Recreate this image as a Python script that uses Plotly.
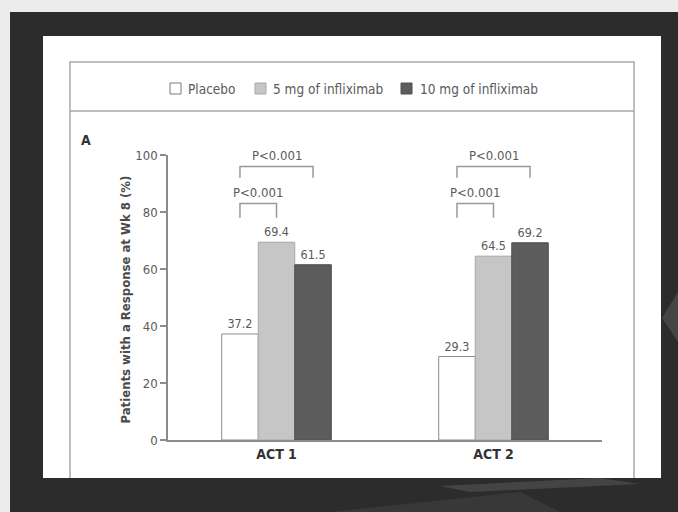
import plotly.graph_objects as go

# ---- data -------------------------------------------------------------
trials = ["ACT 1", "ACT 2"]
groups = ["Placebo", "5 mg of infliximab", "10 mg of infliximab"]
placebo = [37.2, 29.3]
infliximab_5mg = [69.4, 64.5]
infliximab_10mg = [61.5, 69.2]
p_label = "P<0.001"
y_ticks = [0, 20, 40, 60, 80, 100]

series = [placebo, infliximab_5mg, infliximab_10mg]
fills = ["#ffffff", "#c6c6c6", "#5c5c5c"]
edges = ["#8c8c8c", "#a8a8a8", "#505050"]

W, H = 678, 512
FONT = "Liberation Sans Narrow, DejaVu Sans Condensed, Arial Narrow, sans-serif"
TXT = "#5a5a5a"


def px(x):
    return x / W


def py(y):
    return 1 - y / H


BARGAP = 0.495
bar_w = (1 - BARGAP) / len(groups)

fig = go.Figure()
for name, vals, fc, ec in zip(groups, series, fills, edges):
    fig.add_trace(go.Bar(
        x=trials, y=vals, name=name, showlegend=False,
        marker=dict(color=fc, line=dict(color=ec, width=1)),
        text=[f"{v:.1f}" for v in vals], textposition="outside",
        textfont=dict(family=FONT, size=12.5, color=TXT),
        cliponaxis=False,
    ))

shapes = []
annotations = []
# slide backdrop: light edge strips, dark frame, white panel
shapes.append(dict(type="rect", xref="paper", yref="paper", x0=0, x1=1, y0=py(12), y1=1,
                   fillcolor="#ececec", line=dict(width=0), layer="below"))
shapes.append(dict(type="rect", xref="paper", yref="paper", x0=0, x1=px(10), y0=0, y1=1,
                   fillcolor="#ececec", line=dict(width=0), layer="below"))
# faint streaks on the dark frame
shapes.append(dict(type="path", xref="paper", yref="paper",
                   path=f"M {px(662)},{py(318)} L {px(678)},{py(292)} L {px(678)},{py(342)} Z",
                   fillcolor="#454545", line=dict(width=0), layer="below"))
shapes.append(dict(type="path", xref="paper", yref="paper",
                   path=f"M {px(440)},{py(486)} L {px(600)},{py(478)} L {px(640)},{py(484)} L {px(470)},{py(492)} Z",
                   fillcolor="#444444", line=dict(width=0), layer="below"))
shapes.append(dict(type="path", xref="paper", yref="paper",
                   path=f"M {px(330)},{py(512)} L {px(520)},{py(492)} L {px(560)},{py(512)} Z",
                   fillcolor="#383838", line=dict(width=0), layer="below"))
shapes.append(dict(type="rect", xref="paper", yref="paper", x0=px(43), x1=px(661), y0=py(478), y1=py(36),
                   fillcolor="#ffffff", line=dict(width=0), layer="below"))
# figure frame with legend separator
frame_c = "#a9a9a9"
shapes.append(dict(type="path", xref="paper", yref="paper",
                   path=f"M {px(70)},{py(478)} L {px(70)},{py(62)} L {px(634)},{py(62)} L {px(634)},{py(478)}",
                   line=dict(color=frame_c, width=1.5), layer="below"))
shapes.append(dict(type="line", xref="paper", yref="paper", x0=px(70), x1=px(634), y0=py(111), y1=py(111),
                   line=dict(color=frame_c, width=1.5), layer="below"))

# key row: swatch + label for each group
key_swatch_x = [170, 255, 401]
key_text_x = [186, 271, 418]
for name, fc, ec, sx, tx in zip(groups, fills, edges, key_swatch_x, key_text_x):
    shapes.append(dict(type="rect", xref="paper", yref="paper",
                       x0=px(sx), x1=px(sx + 11), y0=py(94), y1=py(83),
                       fillcolor=fc, line=dict(color=ec if fc != "#ffffff" else "#7a7a7a", width=1)))
    annotations.append(dict(x=px(tx), y=py(88.5), xref="paper", yref="paper", xanchor="left",
                            yanchor="middle", text=name, showarrow=False,
                            font=dict(family=FONT, size=13.5, color=TXT)))

# significance brackets: placebo vs 5 mg (lower), placebo vs 10 mg (upper)
br_c = "#999999"
for i in range(len(trials)):
    c_pl = i - bar_w
    c_5 = i
    c_10 = i + bar_w
    for x_end, y_top, y_leg, y_txt in [(c_10, 96, 92, 100), (c_5, 83, 78, 86.7)]:
        shapes.append(dict(type="path", xref="x", yref="y",
                           path=f"M {c_pl},{y_leg} L {c_pl},{y_top} L {x_end},{y_top} L {x_end},{y_leg}",
                           line=dict(color=br_c, width=1.5)))
        annotations.append(dict(x=(c_pl + x_end) / 2, y=y_txt, xref="x", yref="y", text=p_label,
                                showarrow=False, yanchor="middle",
                                font=dict(family=FONT, size=13, color=TXT)))

annotations.append(dict(x=px(115), y=py(300), xref="paper", yref="paper", textangle=-90,
                        text="<b>Patients with a Response at Wk 8 (%)</b>", showarrow=False,
                        font=dict(family=FONT, size=13, color="#4a4a4a")))
annotations.append(dict(x=px(79), y=py(130), xref="paper", yref="paper", xanchor="left",
                        text="<b>A</b>", showarrow=False,
                        font=dict(family=FONT, size=14, color="#333333")))

fig.update_layout(
    width=W, height=H, margin=dict(l=0, r=0, t=0, b=0, autoexpand=False),
    paper_bgcolor="#2c2c2c", plot_bgcolor="rgba(0,0,0,0)",
    barmode="group", bargap=BARGAP, bargroupgap=0,
    showlegend=False,
    xaxis=dict(domain=[px(168), px(602)], range=[-0.5, 1.5], showgrid=False, zeroline=False,
               showline=True, linecolor="#8c8c8c", linewidth=1.5, ticks="",
               tickfont=dict(family=FONT, size=14, color="#333333"),
               tickvals=[0, 1], ticktext=[f"<b>{t}</b>" for t in trials]),
    yaxis=dict(domain=[py(440), py(155)], range=[0, 100], tickvals=y_ticks, showgrid=False,
               zeroline=False, showline=True, linecolor="#8c8c8c", linewidth=1.5,
               ticks="outside", ticklen=6, tickcolor="#8c8c8c", tickwidth=1.5,
               tickfont=dict(family=FONT, size=13, color=TXT)),
    shapes=shapes, annotations=annotations,
)

fig.write_html("out.html")
